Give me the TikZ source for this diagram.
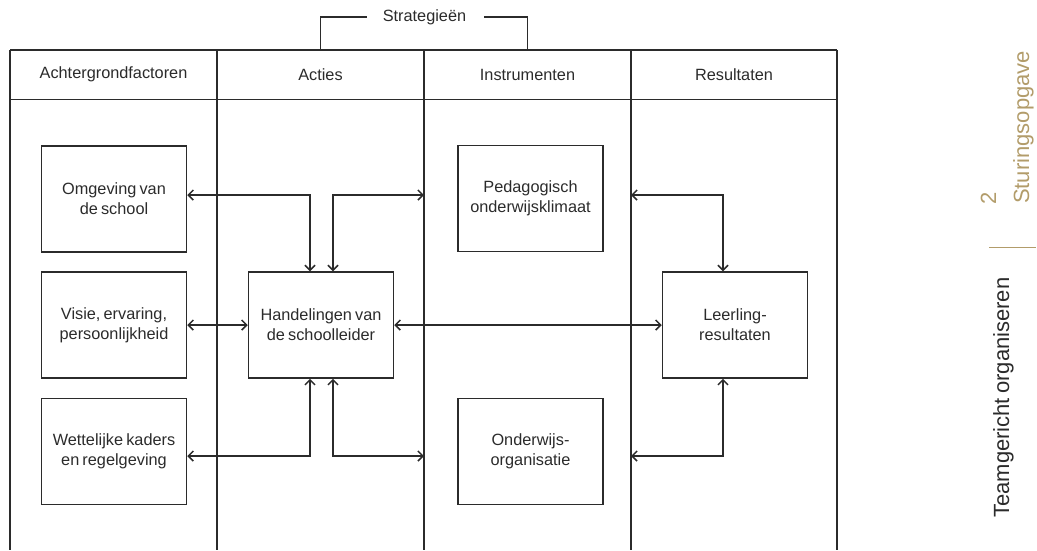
\documentclass[tikz,border=0pt]{standalone}
\usepackage{fontspec}
\setmainfont{Liberation Sans}[WordSpace=0.7]
\usetikzlibrary{arrows.meta}
\definecolor{ink}{HTML}{2B2B2B}
\definecolor{gold}{RGB}{178,156,106}

\begin{document}
\begin{tikzpicture}[x=1pt,y=-1pt,
  rule/.style={draw=ink, line width=1.5pt},
  box/.style={rule, minimum width=145pt, minimum height=106pt, align=center,
    inner sep=0pt, text=ink, font=\fontsize{16.3}{20}\selectfont},
  head/.style={text=ink, inner sep=0pt, font=\fontsize{16.3}{20}\selectfont},
  link/.style={rule, {Straight Barb[length=5pt,width=10pt]}-{Straight Barb[length=5pt,width=10pt]}},
  side/.style={rotate=90, anchor=base west, inner sep=0pt, font=\fontsize{22}{26}\selectfont}]

\useasboundingbox (0,0) rectangle (1037,550);

% column grid
\coordinate (c0) at (10,50);
\coordinate (c1) at (217,50);
\coordinate (c2) at (424,50);
\coordinate (c3) at (631,50);
\coordinate (c4) at (837,50);
\draw[rule] (c0) -- (c4);
\draw[rule] (10,99.5) -- (837,99.5);
\foreach \c in {c0,c1,c2,c3,c4} \draw[rule] (\c) -- (\c |- 0,550);

% column headers
\node[head] (h1) at (113.5,74.5) {Achtergrondfactoren};
\node[head] (h2) at (320.5,74.5) {Acties};
\node[head] (h3) at (527.5,74.5) {Instrumenten};
\node[head] (h4) at (734,74.5) {Resultaten};

% bracket over the two middle columns
\node[head] (strat) at (424.5,17) {Strategieën};
\coordinate (bl) at (320.5,50);
\coordinate (br) at (527.5,50);
\draw[rule] ([xshift=-16pt]strat.west) -| (bl);
\draw[rule] ([xshift=18pt]strat.east) -| (br);

% boxes
\node[box] (omg)  at (114,199)     {Omgeving van\\de school};
\node[box] (vis)  at (114,325)     {Visie, ervaring,\\persoonlijkheid};
\node[box] (wet)  at (114,451.5)   {Wettelijke kaders\\en regelgeving};
\node[box] (hand) at (321,325)     {Handelingen van\\de schoolleider};
\node[box] (ped)  at (530.5,198.5) {Pedagogisch\\onderwijsklimaat};
\node[box] (ond)  at (530.5,451.5) {Onderwijs-\\organisatie};
\node[box] (leer) at (735,325)     {Leerling-\\resultaten};

% connector ends on the column lines
\coordinate (inT)  at (424,195);
\coordinate (resT) at (631,195);
\coordinate (inB)  at (424,456);
\coordinate (resB) at (631,456);

% connectors
\draw[link] ([yshift=4pt]omg.east) -| ([xshift=-11pt]hand.north);
\draw[link] ([xshift=12pt]hand.north) |- (inT);
\draw[link] (resT) -| ([xshift=-12pt]leer.north);
\draw[link] (vis.east) -- (hand.west);
\draw[link] (hand.east) -- (leer.west);
\draw[link] ([yshift=-4.5pt]wet.east) -| ([xshift=-11pt]hand.south);
\draw[link] ([xshift=12pt]hand.south) |- (inB);
\draw[link] (resB) -| ([xshift=-12pt]leer.south);

% running head on the right
\node[side, text=gold] (num) at (996,205) {2};
\node[side, text=gold] (title) at (1029,204) {Sturingsopgave};
\draw[gold, line width=1pt] (989,247) -- (1036,247);
\node[side, text=ink] (team) at (1009,518) {Teamgericht organiseren};
\end{tikzpicture}
\end{document}
